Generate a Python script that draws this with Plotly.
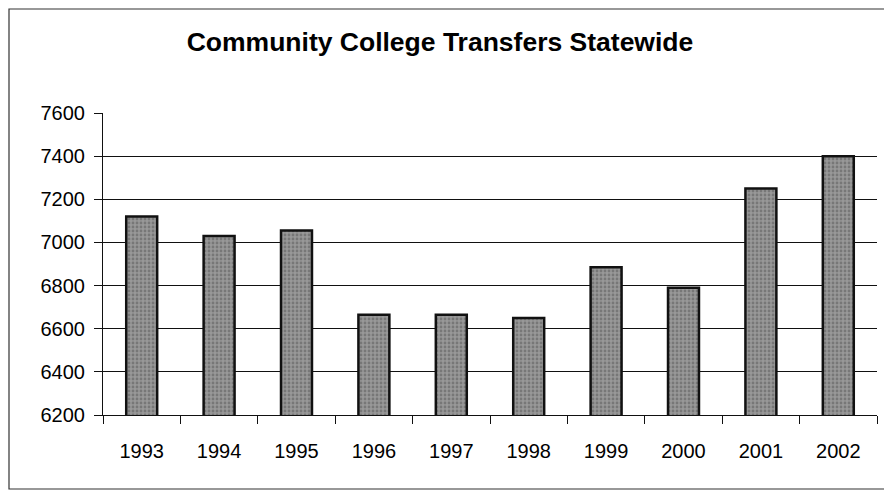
import plotly.graph_objects as go

years = ["1993", "1994", "1995", "1996", "1997", "1998", "1999", "2000", "2001", "2002"]
transfers = [7120, 7030, 7055, 6665, 6665, 6650, 6885, 6790, 7250, 7400]
y_ticks = [6200, 6400, 6600, 6800, 7000, 7200, 7400, 7600]

OFF = 8  # default page body margin
W, H = 892 - OFF, 494 - OFF
L, R, T, B = 103 - OFF, 15, 113 - OFF, 79
pw, ph = W - L - R, H - T - B

def px_x(x):
    return (x - OFF - L) / pw

def px_y(y):
    return (H - B - (y - OFF)) / ph

fig = go.Figure(go.Bar(
    x=years, y=transfers,
    marker=dict(color="#989898", line=dict(color="#111111", width=2.5),
                pattern=dict(shape=".", fgcolor="#555555", size=4, solidity=0.4)),
    width=0.4,
))

fig.update_layout(
    width=W, height=H,
    margin=dict(l=L, r=R, t=T, b=B),
    paper_bgcolor="white", plot_bgcolor="white",
    font=dict(family="Liberation Sans, Arial, sans-serif", color="black", size=20),
    title=dict(text="<b>Community College Transfers Statewide</b>",
               x=(440 - OFF) / W, xanchor="center", y=1 - (42 - OFF) / H, yanchor="middle",
               yref="container", font=dict(size=26.5, color="black")),
    showlegend=False,
    bargap=0.6,
    shapes=[dict(type="rect", xref="paper", yref="paper",
                 x0=px_x(9), x1=px_x(887), y0=px_y(489), y1=px_y(9),
                 line=dict(color="#333333", width=1.2), layer="below")],
)

fig.update_yaxes(range=[6200, 7600], tickvals=y_ticks, ticktext=[str(v) for v in y_ticks],
                 showgrid=True, gridcolor="#111111", gridwidth=1,
                 showline=True, linecolor="#111111", linewidth=1.2,
                 ticks="outside", ticklen=8, tickcolor="#111111",
                 tickfont=dict(size=20), ticklabelstandoff=5, zeroline=False)
fig.update_xaxes(type="category", showline=True, linecolor="#111111", linewidth=1.2,
                 ticks="outside", ticklen=8, tickcolor="#111111", tickson="boundaries",
                 tickfont=dict(size=20), ticklabelstandoff=18, showgrid=False)

fig.write_html("out.html")
